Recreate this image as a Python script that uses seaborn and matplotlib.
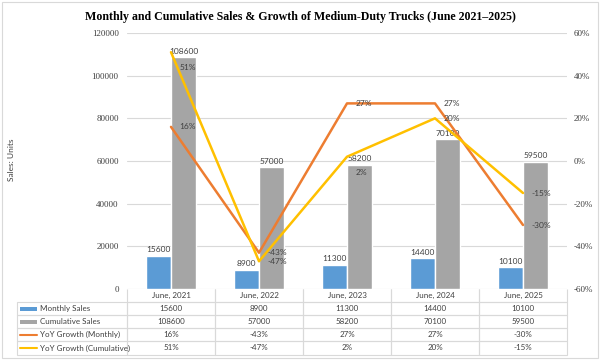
import numpy as np
import pandas as pd
import matplotlib
matplotlib.use("Agg")
import matplotlib.pyplot as plt
import seaborn as sns
from matplotlib.table import Table
from matplotlib.patches import Rectangle
from matplotlib.lines import Line2D

# data
months = ["June, 2021", "June, 2022", "June, 2023", "June, 2024", "June, 2025"]
monthly_sales = [15600, 8900, 11300, 14400, 10100]
cumulative_sales = [108600, 57000, 58200, 70100, 59500]
yoy_monthly = [16, -43, 27, 27, -30]
yoy_cumulative = [51, -47, 2, 20, -15]
series_names = ["Monthly Sales", "Cumulative Sales",
                "YoY Growth (Monthly)", "YoY Growth (Cumulative)"]
title = "Monthly and Cumulative Sales & Growth of Medium-Duty Trucks (June 2021\u20132025)"

BLUE, GREY, ORANGE, YELLOW = "#5B9BD5", "#A5A5A5", "#ED7D31", "#FFC000"
GRID = "#D9D9D9"
SERIF = "Liberation Serif"

sns.set_theme(style="white")
plt.rcParams["font.family"] = ["Lato", "DejaVu Sans"]

W, H = 600, 361
fig = plt.figure(figsize=(6, 3.61), dpi=100)


def fx(px):
    return px / W


def fy(py):
    return 1 - py / H


# plot area in pixel terms: x 127..567, y 33..289
ax = fig.add_axes([fx(127), fy(289), fx(567) - fx(127), fy(33) - fy(289)])

bars = pd.DataFrame({
    "month": months * 2,
    "value": monthly_sales + cumulative_sales,
    "series": [series_names[0]] * len(months) + [series_names[1]] * len(months),
})
sns.barplot(data=bars, x="month", y="value", hue="series", palette=[BLUE, GREY],
            width=0.57, saturation=1, legend=False, ax=ax)

ax.set_ylim(0, 120000)
ax.set_yticks(range(0, 120001, 20000))
ax.grid(axis="y", color=GRID, lw=0.8)
ax.set_axisbelow(True)
ax.set_xlabel("")
ax.set_ylabel("")
ax.set_xticks([])
for s in ax.spines.values():
    s.set_visible(False)
ax.tick_params(axis="y", labelsize=6.5, colors="#404040", length=0, pad=6)
for lbl in ax.get_yticklabels():
    lbl.set_fontfamily(SERIF)

for cont, vals in zip(ax.containers, [monthly_sales, cumulative_sales]):
    ax.bar_label(cont, labels=[str(v) for v in vals], padding=2,
                 fontsize=6, color="#404040")

# growth lines on the secondary axis
ax2 = ax.twinx()
sns.lineplot(x=np.arange(len(months)), y=yoy_monthly, color=ORANGE, lw=1.8, ax=ax2)
sns.lineplot(x=np.arange(len(months)), y=yoy_cumulative, color=YELLOW, lw=1.8, ax=ax2)
ax2.set_ylim(-60, 60)
ax2.set_yticks(range(-60, 61, 20))
ax2.set_yticklabels([f"{v}%" for v in range(-60, 61, 20)])
ax2.tick_params(axis="y", labelsize=6.5, colors="#404040", length=0, pad=5)
for lbl in ax2.get_yticklabels():
    lbl.set_fontfamily(SERIF)
ax2.grid(False)
for s in ax2.spines.values():
    s.set_visible(False)
ax.set_xlim(-0.5, len(months) - 0.5)

cum_dy = [-11, 0, -11, 0, 0]
for i, v in enumerate(yoy_monthly):
    ax2.annotate(f"{v}%", (i, v), xytext=(6, 0), textcoords="offset points",
                 ha="left", va="center", fontsize=6, color="#404040")
for i, v in enumerate(yoy_cumulative):
    ax2.annotate(f"{v}%", (i, v), xytext=(6, cum_dy[i]), textcoords="offset points",
                 ha="left", va="center", fontsize=6, color="#404040")

# data table under the plot
row_h = [13, 13, 13, 13, 14]
leg_w, col_w = 110, 88
tb = Table(ax, bbox=[(17 - 127) / 440, -(355 - 289) / 256, 550 / 440, 66 / 256])
tb.auto_set_font_size(False)
rows = [[str(v) for v in monthly_sales], [str(v) for v in cumulative_sales],
        [f"{v}%" for v in yoy_monthly], [f"{v}%" for v in yoy_cumulative]]
c = tb.add_cell(0, 0, width=leg_w, height=row_h[0], text="")
c.visible_edges = ""
for j, m in enumerate(months):
    c = tb.add_cell(0, j + 1, width=col_w, height=row_h[0], text=m, loc="center")
    c.visible_edges = "LRB"
for r, vals in enumerate(rows):
    tb.add_cell(r + 1, 0, width=leg_w, height=row_h[r + 1], text="")
    for j, v in enumerate(vals):
        tb.add_cell(r + 1, j + 1, width=col_w, height=row_h[r + 1], text=v, loc="center")
for cell in tb.get_celld().values():
    cell.set_edgecolor(GRID)
    cell.set_linewidth(0.8)
    cell.set_facecolor("none")
    cell.get_text().set_fontsize(5.8)
    cell.get_text().set_color("#404040")
ax.add_table(tb)

# legend keys inside the table's first column
y0 = 302
for r, name in enumerate(series_names):
    yc = y0 + sum(row_h[1:r + 1]) + row_h[r + 1] / 2
    if r < 2:
        fig.add_artist(Rectangle((fx(20), fy(yc + 2)), fx(37) - fx(20), fy(yc - 2) - fy(yc + 2),
                                 transform=fig.transFigure, color=[BLUE, GREY][r], lw=0))
    else:
        fig.add_artist(Line2D([fx(20), fx(37)], [fy(yc), fy(yc)], transform=fig.transFigure,
                              color=[ORANGE, YELLOW][r - 2], lw=1.5))
    fig.text(fx(40), fy(yc), name, ha="left", va="center", fontsize=5.8, color="#404040")

fig.text(fx(12), fy(160), "Sales: Units", rotation=90, ha="center", va="center",
         fontsize=6, color="#404040")
fig.text(0.5, fy(17), title, ha="center", va="center", fontsize=8.6,
         fontweight="bold", fontfamily=SERIF, color="black")

fig.add_artist(Rectangle((fx(2), fy(358)), fx(596), fy(2) - fy(358), transform=fig.transFigure,
                         fill=False, edgecolor=GRID, lw=0.8))

fig.savefig("out.png", dpi=100)
